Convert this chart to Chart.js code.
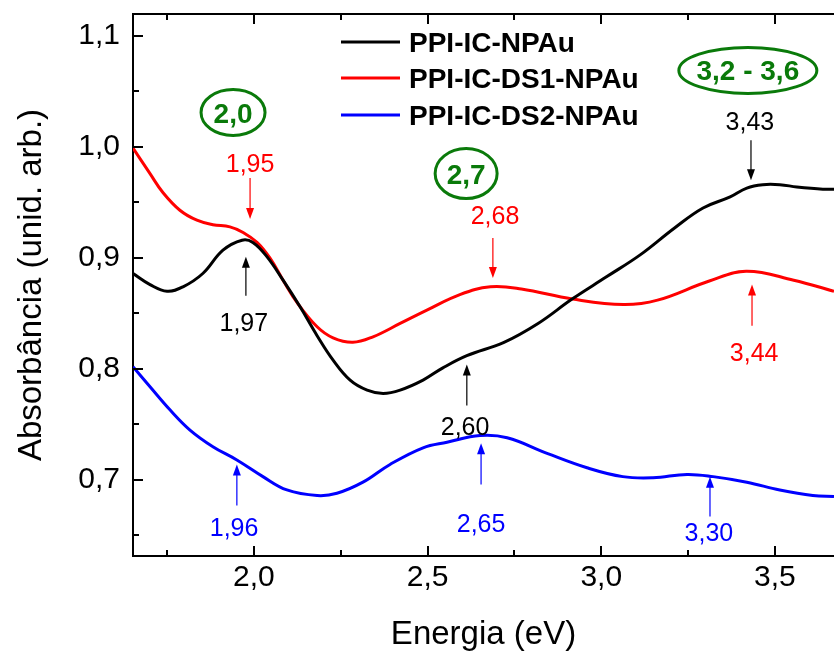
<!DOCTYPE html>
<html><head><meta charset="utf-8">
<script src="https://cdn.jsdelivr.net/npm/chart.js@4/dist/chart.umd.min.js"></script>
<style>html,body{margin:0;padding:0;background:#fff;overflow:hidden}</style>
</head><body><canvas id="c" width="834" height="651"></canvas>
<script>
const seriesNames = ['PPI-IC-NPAu', 'PPI-IC-DS1-NPAu', 'PPI-IC-DS2-NPAu'];
const seriesColors = ['#000000', '#ff0000', '#0000ff'];

const energyBlack = [1.652,1.701,1.750,1.796,1.853,1.911,1.966,1.997,2.038,2.084,2.133,2.182,2.228,2.277,2.326,2.372,2.421,2.487,2.544,2.613,2.720,2.818,2.916,3.015,3.113,3.211,3.293,3.371,3.419,3.465,3.514,3.563,3.638,3.670];
const absBlack    = [0.886,0.876,0.870,0.874,0.886,0.907,0.916,0.914,0.901,0.880,0.856,0.830,0.808,0.790,0.781,0.778,0.781,0.790,0.801,0.812,0.824,0.841,0.863,0.883,0.903,0.927,0.945,0.955,0.963,0.966,0.966,0.964,0.962,0.962];

const energyRed = [1.652,1.701,1.738,1.787,1.836,1.882,1.931,1.969,2.009,2.046,2.084,2.124,2.182,2.228,2.285,2.343,2.421,2.498,2.593,2.681,2.770,2.917,3.064,3.162,3.309,3.417,3.554,3.670];
const absRed    = [0.999,0.976,0.959,0.943,0.934,0.930,0.928,0.923,0.914,0.900,0.880,0.860,0.838,0.828,0.824,0.829,0.841,0.853,0.867,0.874,0.872,0.863,0.858,0.862,0.879,0.888,0.880,0.870];

const energyBlue = [1.652,1.701,1.759,1.816,1.882,1.951,2.026,2.095,2.182,2.239,2.314,2.392,2.487,2.556,2.651,2.729,2.844,2.959,3.062,3.149,3.247,3.322,3.419,3.514,3.609,3.670];
const absBlue    = [0.802,0.784,0.763,0.745,0.730,0.718,0.703,0.691,0.686,0.688,0.698,0.714,0.729,0.734,0.740,0.738,0.724,0.711,0.703,0.702,0.705,0.703,0.698,0.691,0.686,0.685];

const xRange = [1.652, 3.67];
const yRange = [0.6315, 1.1198];
const xTickValues = [2.0, 2.5, 3.0, 3.5];
const xTickLabels = ['2,0', '2,5', '3,0', '3,5'];
const xMinorTicks = [1.75, 2.25, 2.75, 3.25];
const yTickValues = [0.7, 0.8, 0.9, 1.0, 1.1];
const yTickLabels = ['0,7', '0,8', '0,9', '1,0', '1,1'];
const yMinorTicks = [0.65, 0.75, 0.85, 0.95, 1.05];

const xTitle = 'Energia (eV)';
const yTitle = 'Absorbância (unid. arb.)';

// peak annotations (arrow + value label), in data units
const peakLabels    = ['1,95','1,97','2,68','2,60','3,43','3,44','1,96','2,65','3,30'];
const peakSeries    = [1, 0, 1, 0, 0, 1, 2, 2, 2];
const peakArrowX    = [1.989,1.977,2.688,2.613,3.431,3.434,1.951,2.654,3.313];
const peakArrowTail = [0.972,0.866,0.918,0.767,1.006,0.839,0.677,0.696,0.667];
const peakArrowTip  = [0.935,0.901,0.882,0.804,0.970,0.876,0.714,0.733,0.703];
const peakTextX     = [1.989,1.971,2.694,2.608,3.428,3.440,1.943,2.654,3.310];
const peakTextY     = [0.986,0.842,0.939,0.749,1.023,0.815,0.658,0.661,0.653];

// band labels in green ellipses
const bandLabels = ['2,0', '2,7', '3,2 - 3,6'];
const bandX = [1.940, 2.611, 3.422];
const bandY = [1.031, 0.976, 1.069];

const FONT = "'Liberation Sans', Arial, sans-serif";

function pts(xs, ys) { return xs.map((v, i) => ({ x: v, y: ys[i] })); }

const decor = {
  id: 'decor',
  afterDraw(chart) {
    const { ctx, chartArea: a, scales: { x, y } } = chart;
    ctx.save();
    ctx.strokeStyle = '#000';
    ctx.lineWidth = 2;
    ctx.beginPath();
    ctx.moveTo(a.left - 1, a.top); ctx.lineTo(a.right, a.top);
    ctx.stroke();
    const xt = (v, len) => {
      const p = Math.round(x.getPixelForValue(v));
      ctx.beginPath();
      ctx.moveTo(p, a.bottom); ctx.lineTo(p, a.bottom - len);
      ctx.moveTo(p, a.top); ctx.lineTo(p, a.top + len);
      ctx.stroke();
    };
    const yt = (v, len) => {
      const p = Math.round(y.getPixelForValue(v));
      ctx.beginPath();
      ctx.moveTo(a.left, p); ctx.lineTo(a.left + len, p);
      ctx.stroke();
    };
    xTickValues.forEach(v => xt(v, 10));
    xMinorTicks.forEach(v => xt(v, 6));
    yTickValues.forEach(v => yt(v, 10));
    yMinorTicks.forEach(v => yt(v, 6));

    // peak arrows
    peakLabels.forEach((lab, i) => {
      const col = seriesColors[peakSeries[i]];
      const px = x.getPixelForValue(peakArrowX[i]);
      const pTail = y.getPixelForValue(peakArrowTail[i]);
      const pTip = y.getPixelForValue(peakArrowTip[i]);
      const dir = pTip > pTail ? 1 : -1;
      ctx.strokeStyle = col; ctx.fillStyle = col; ctx.lineWidth = 1.2;
      ctx.beginPath();
      ctx.moveTo(px, pTail); ctx.lineTo(px, pTip - dir * 8);
      ctx.stroke();
      ctx.beginPath();
      ctx.moveTo(px, pTip);
      ctx.lineTo(px - 4, pTip - dir * 11);
      ctx.lineTo(px + 4, pTip - dir * 11);
      ctx.closePath(); ctx.fill();
      ctx.font = '25px ' + FONT;
      ctx.textAlign = 'center'; ctx.textBaseline = 'alphabetic';
      ctx.fillText(lab, x.getPixelForValue(peakTextX[i]), y.getPixelForValue(peakTextY[i]) + 9);
    });

    // green band ellipses
    const rx = [32, 31, 69], ry = [23, 25, 23];
    bandLabels.forEach((lab, i) => {
      const cx = x.getPixelForValue(bandX[i]);
      const cy = y.getPixelForValue(bandY[i]);
      ctx.strokeStyle = '#0a7a0a'; ctx.fillStyle = '#0a7a0a'; ctx.lineWidth = 3;
      ctx.beginPath(); ctx.ellipse(cx, cy, rx[i], ry[i], 0, 0, Math.PI * 2); ctx.stroke();
      ctx.font = 'bold 28px ' + FONT;
      ctx.textAlign = 'center'; ctx.textBaseline = 'alphabetic';
      ctx.fillText(lab, cx, cy + 10);
    });

    // legend
    const ly = [42, 78, 115];
    chart.data.datasets.forEach((ds, i) => {
      ctx.strokeStyle = ds.borderColor; ctx.lineWidth = 3;
      ctx.beginPath(); ctx.moveTo(341, ly[i]); ctx.lineTo(400, ly[i]); ctx.stroke();
      ctx.fillStyle = '#000';
      ctx.font = 'bold 28px ' + FONT;
      ctx.textAlign = 'left'; ctx.textBaseline = 'alphabetic';
      ctx.fillText(ds.label, 409, ly[i] + 10);
    });
    ctx.restore();
  }
};

const series = [pts(energyBlack, absBlack), pts(energyRed, absRed), pts(energyBlue, absBlue)];

new Chart(document.getElementById('c'), {
  type: 'line',
  data: {
    datasets: series.map((d, i) => ({
      label: seriesNames[i], data: d, borderColor: seriesColors[i],
      borderWidth: 3, pointRadius: 0, fill: false, tension: 0.4
    }))
  },
  options: {
    responsive: false, animation: false,
    layout: { padding: { top: 14, left: 0, right: 0, bottom: 0 } },
    plugins: { legend: { display: false }, tooltip: { enabled: false } },
    scales: {
      x: {
        type: 'linear', min: xRange[0], max: xRange[1],
        afterBuildTicks: s => { s.ticks = xTickValues.map(v => ({ value: v })); },
        afterFit: s => { s.height = 95; s.paddingLeft = 0; s.paddingRight = 0; },
        grid: { display: false, drawTicks: false },
        border: { display: true, color: '#000', width: 2 },
        ticks: { padding: 4, color: '#000', font: { family: FONT, size: 30 },
          callback: (v) => { const k = xTickValues.findIndex(t => Math.abs(t - v) < 1e-6); return k >= 0 ? xTickLabels[k] : ''; } },
        title: { display: true, text: xTitle, color: '#000', font: { family: FONT, size: 33, lineHeight: 1.0 }, padding: { top: 0, bottom: 0 } }
      },
      y: {
        type: 'linear', min: yRange[0], max: yRange[1],
        afterBuildTicks: s => { s.ticks = yTickValues.map(v => ({ value: v })); },
        afterFit: s => { s.width = 133; s.paddingTop = 0; s.paddingBottom = 0; },
        grid: { display: false, drawTicks: false },
        border: { display: true, color: '#000', width: 2 },
        ticks: { padding: 13, color: '#000', font: { family: FONT, size: 30 },
          callback: (v) => { const k = yTickValues.findIndex(t => Math.abs(t - v) < 1e-6); return k >= 0 ? yTickLabels[k] : ''; } },
        title: { display: true, text: yTitle, color: '#000', font: { family: FONT, size: 33 }, padding: { top: 12, bottom: 0 } }
      }
    }
  },
  plugins: [decor]
});
</script>
</body></html>
